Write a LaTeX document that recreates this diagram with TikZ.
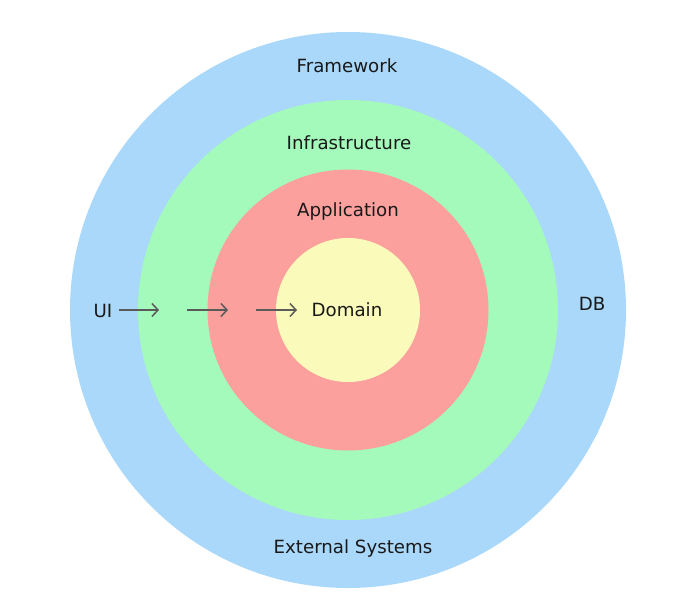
\documentclass[tikz,border=0pt]{standalone}
\usepackage{fontspec}
\setmainfont{DejaVu Sans}
\usetikzlibrary{arrows.meta}
\definecolor{cblue}{RGB}{170,216,250}
\definecolor{cgreen}{RGB}{164,250,186}
\definecolor{cred}{RGB}{252,160,158}
\definecolor{cyellow}{RGB}{250,250,186}
\definecolor{carrow}{RGB}{90,90,90}
\begin{document}
\begin{tikzpicture}[x=1pt,y=-1pt,
  ring/.style={circle,inner sep=0pt,draw=none},
  lbl/.style={font=\fontsize{18.2}{21}\selectfont,text=black!90,inner sep=0pt},
  flow/.style={-{Straight Barb[length=6pt,width=13pt,line width=1.5pt]},draw=carrow,line width=1.5pt}]
\useasboundingbox (0,0) rectangle (685,609);
\node[ring,fill=cblue,minimum size=556pt] (fw) at (348,310) {};
\node[ring,fill=cgreen,minimum size=420pt] (inf) at (348,310) {};
\node[ring,fill=cred,minimum size=281pt] (app) at (348,310) {};
\node[ring,fill=cyellow,minimum size=144pt] (dom) at (348,310) {};
\node[lbl] (tfw) at (347,66) {Framework};
\node[lbl] (tinf) at (349,143) {Infrastructure};
\node[lbl] (tapp) at (348,211) {Application};
\node[lbl] (tdom) at (347,310) {Domain};
\node[lbl] (tui) at (103,311) {UI};
\node[lbl] (tdb) at (592,304) {DB};
\node[lbl] (text) at (353,548) {External Systems};
\coordinate (a1s) at (119,310); \coordinate (a1e) at (159,310);
\coordinate (a2s) at (187,310); \coordinate (a2e) at (228,310);
\coordinate (a3s) at (256,310); \coordinate (a3e) at (297,310);
\draw[flow] (a1s) -- (a1e);
\draw[flow] (a2s) -- (a2e);
\draw[flow] (a3s) -- (a3e);
\end{tikzpicture}
\end{document}
